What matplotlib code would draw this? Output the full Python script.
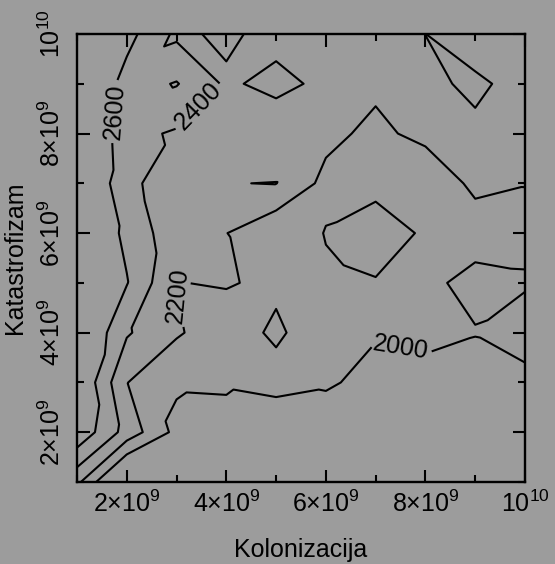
import numpy as np
import matplotlib
matplotlib.use('Agg')
import matplotlib.pyplot as plt
import matplotlib.tri as mtri
from matplotlib.ticker import FixedLocator, FixedFormatter

plt.rcParams['font.family'] = ['Liberation Sans', 'DejaVu Sans']
plt.rcParams['mathtext.fontset'] = 'custom'
plt.rcParams['mathtext.rm'] = 'Liberation Sans'

# grid of the simulation
kolonizacija = [1e9, 2e9, 3e9, 4e9, 5e9, 6e9, 7e9, 8e9, 9e9, 1e10]
katastrofizam = [1e9, 2e9, 3e9, 4e9, 5e9, 6e9, 7e9, 8e9, 9e9, 1e10]

# one row per katastrofizam value (bottom to top), one column per kolonizacija value
z = np.array([
    [2250, 1600, 1750, 1720, 1700, 1680, 1650, 1620, 1600, 1580],
    [2757, 2322, 1942, 1880, 1760, 1805, 1800, 1780, 1760, 1780],
    [2825, 2205, 2030, 2040, 2100, 2040, 1907, 1917, 1885, 1909],
    [2867, 2422, 2223, 2080, 2242, 2042, 2023, 2060, 2010, 2137],
    [2850, 2610, 2195, 2217, 2154, 2167, 2192, 2041, 1947, 1970],
    [2810, 2560, 2258, 2204, 2030, 2210, 2260, 2184, 2075, 2081],
    [2833, 2480, 2222, 2396, 2404, 2142, 2165, 2020, 2256, 2210],
    [2929, 2459, 2376, 2380, 2260, 2255, 2149, 2263, 2232, 2280],
    [2890, 2520, 2612, 2369, 2458, 2353, 2242, 2235, 2170, 2258],
    [2850, 2667, 2360, 2438, 2330, 2360, 2300, 2199, 2290, 2300],
])
levels = [2000, 2200, 2400, 2600]

tick_vals = [2e9, 4e9, 6e9, 8e9, 1e10]
tick_text = [r'$\mathregular{2{\times}10^{9}}$', r'$\mathregular{4{\times}10^{9}}$',
             r'$\mathregular{6{\times}10^{9}}$', r'$\mathregular{8{\times}10^{9}}$',
             r'$\mathregular{10^{10}}$']

bg = '#9c9c9c'

# linear interpolation on triangles: each grid square is split along the
# diagonal that bends the contours least, saddles keep the low corners joined
nx, ny = len(kolonizacija), len(katastrofizam)
gx, gy = np.meshgrid(kolonizacija, katastrofizam)


def cost(za, zb):
    c = 0.0
    for lev in levels:
        if (za - lev) * (zb - lev) < 0:
            f = (lev - za) / (zb - za)
            c += min(f, 1 - f)
    return c


triangles = []
for j in range(ny - 1):
    for i in range(nx - 1):
        a, b = j * nx + i, j * nx + i + 1
        c, d = (j + 1) * nx + i, (j + 1) * nx + i + 1
        za, zb, zc, zd = z[j, i], z[j, i + 1], z[j + 1, i], z[j + 1, i + 1]
        saddle = any((min(za, zd) > lev and max(zb, zc) < lev) or
                     (max(za, zd) < lev and min(zb, zc) > lev) for lev in levels)
        if saddle:
            use_anti = zb + zc < za + zd
        else:
            use_anti = cost(zb, zc) < cost(za, zd)
        if use_anti:
            triangles += [[a, b, c], [b, d, c]]
        else:
            triangles += [[a, b, d], [a, d, c]]

tri = mtri.Triangulation(gx.ravel(), gy.ravel(), triangles)

fig = plt.figure(figsize=(5.55, 5.64), dpi=100, facecolor=bg)
ax = fig.add_axes([77 / 555, 1 - 482 / 564, 448 / 555, 448 / 564])
ax.set_facecolor(bg)

cs = ax.tricontour(tri, z.ravel(), levels=levels, colors='black', linewidths=1.5)
ax.clabel(cs, inline=True, fmt='%d', fontsize=18, inline_spacing=4,
          manual=[(1.72e9, 8.45e9), (3.43e9, 8.55e9), (3.05e9, 4.75e9), (7.5e9, 3.68e9)])

ax.set_xlim(1e9, 1e10)
ax.set_ylim(1e9, 1e10)
for axis in (ax.xaxis, ax.yaxis):
    axis.set_major_locator(FixedLocator(tick_vals))
    axis.set_major_formatter(FixedFormatter(tick_text))
    axis.set_minor_locator(FixedLocator([1e9, 3e9, 5e9, 7e9, 9e9]))

ax.tick_params(which='both', direction='in', top=True, right=True, width=1.5, colors='black')
ax.tick_params(which='major', length=9)
ax.tick_params(which='minor', length=5)
ax.tick_params(axis='x', labelsize=18, pad=6)
ax.tick_params(axis='y', labelsize=18, pad=9, labelrotation=90)
for lab in ax.get_yticklabels():
    lab.set_va('center')
for sp in ax.spines.values():
    sp.set_linewidth(1.7)

ax.set_xlabel('Kolonizacija', fontsize=18)
ax.set_ylabel('Katastrofizam', fontsize=18)
ax.xaxis.set_label_coords(0.5, -0.125)
ax.yaxis.set_label_coords(-0.112, 0.5)

fig.savefig('out.png', dpi=100, facecolor=bg)
